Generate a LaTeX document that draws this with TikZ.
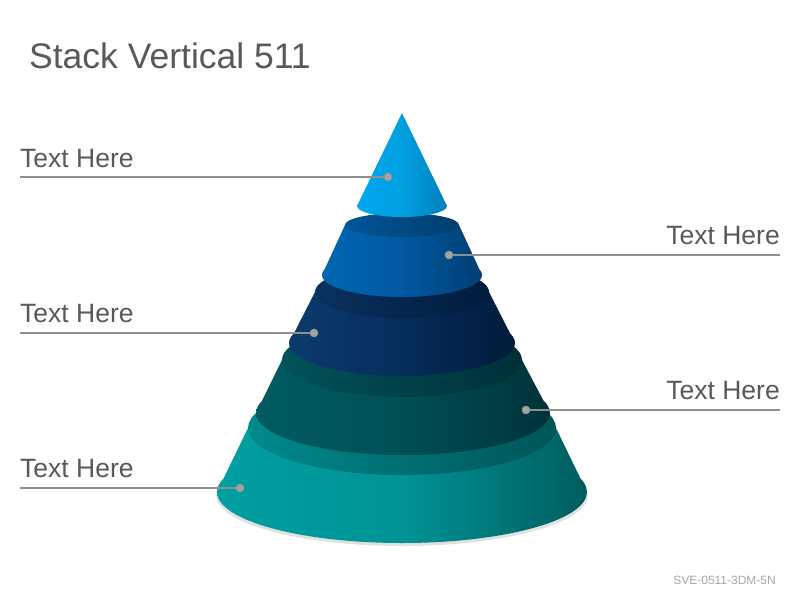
\documentclass[tikz,border=0pt]{standalone}
\usepackage{fontspec}
\setmainfont{Liberation Sans}
\definecolor{txt}{HTML}{595959}
\definecolor{foot}{HTML}{A6A6A6}
\definecolor{lead}{HTML}{8F8F8F}
\definecolor{dotc}{HTML}{A3A3A3}
\definecolor{ca}{HTML}{00A9EC}\definecolor{cm}{HTML}{009FE0}\definecolor{cb}{HTML}{0080BE}
\definecolor{ba}{HTML}{0067B2}\definecolor{bm}{HTML}{0058A0}\definecolor{bb}{HTML}{003F73}
\definecolor{bta}{HTML}{00569A}\definecolor{btb}{HTML}{003E6E}
\definecolor{na}{HTML}{0D3A6E}\definecolor{nm}{HTML}{062D5C}\definecolor{nb}{HTML}{001B3A}
\definecolor{nta}{HTML}{0A3160}\definecolor{ntb}{HTML}{001C3C}
\definecolor{da}{HTML}{005C62}\definecolor{dm}{HTML}{004F56}\definecolor{db}{HTML}{00323A}
\definecolor{dta}{HTML}{00535A}\definecolor{dtb}{HTML}{003038}
\definecolor{ta}{HTML}{009FA1}\definecolor{tm}{HTML}{009396}\definecolor{tb}{HTML}{005C5E}
\definecolor{tta}{HTML}{008A8C}\definecolor{ttb}{HTML}{005558}
\begin{document}
\begin{tikzpicture}[x=1pt,y=-1pt,
  lbl/.style={text=txt,font=\fontsize{26.5}{30}\selectfont,inner sep=0pt},
  leader/.style={draw=lead,line width=2.9pt},
  dotnode/.style={circle,fill=dotc,draw=lead,line width=0.6pt,minimum size=8pt,inner sep=0pt}]
\useasboundingbox[fill=white] (0,0) rectangle (800,600);
% title and footer
\node[text=txt,font=\fontsize{35.5}{40}\selectfont,anchor=base west,inner sep=0pt] (title) at (29,68) {Stack Vertical 511};
\node[text=foot,font=\fontsize{12}{14}\selectfont,anchor=base east,inner sep=0pt] (code) at (776,584) {SVE-0511-3DM-5N};
% shadow under base
\fill[black,opacity=0.12] (402,495) ellipse [x radius=186pt,y radius=51pt];
% layer 5
\shade[left color=ta,right color=tb,middle color=tm] (248,428) -- (217,492) -- (587,492) -- (556,428) -- cycle (402,492) ellipse [x radius=185pt,y radius=51pt];
\shade[left color=tta,right color=ttb] (402,428) ellipse [x radius=154pt,y radius=47pt];
% layer 4
\shade[left color=da,right color=db,middle color=dm] (282,360) -- (256,413) -- (550,413) -- (522,360) -- cycle (403,413) ellipse [x radius=147pt,y radius=42pt];
\shade[left color=dta,right color=dtb] (402,360) ellipse [x radius=120pt,y radius=37pt];
% layer 3
\shade[left color=na,right color=nb,middle color=nm] (315,292) -- (289,343) -- (515,343) -- (489,292) -- cycle (402,343) ellipse [x radius=113pt,y radius=33pt];
\shade[left color=nta,right color=ntb] (402,292) ellipse [x radius=87pt,y radius=26pt];
% layer 2
\shade[left color=ba,right color=bb,middle color=bm] (345,225) -- (322,275) -- (482,275) -- (459,225) -- cycle (402,275) ellipse [x radius=80pt,y radius=22pt];
\shade[left color=bta,right color=btb] (402,225) ellipse [x radius=57pt,y radius=12pt];
% layer 1 (cone)
\shade[left color=ca,right color=cb,middle color=cm] (402,113) -- (357,206) -- (447,206) -- cycle (402,206) ellipse [x radius=45pt,y radius=11pt];
% labels
\node[lbl,anchor=base west] (t1) at (20,167) {Text Here};
\node[lbl,anchor=base east] (t2) at (780,244) {Text Here};
\node[lbl,anchor=base west] (t3) at (20,322) {Text Here};
\node[lbl,anchor=base east] (t4) at (780,399) {Text Here};
\node[lbl,anchor=base west] (t5) at (20,477) {Text Here};
\coordinate (s1) at (20,177);
\coordinate (s2) at (780,255);
\coordinate (s3) at (20,333);
\coordinate (s4) at (780,410);
\coordinate (s5) at (20,488);
\coordinate (p1) at (388,177);
\coordinate (p2) at (449,255);
\coordinate (p3) at (314,333);
\coordinate (p4) at (526,410);
\coordinate (p5) at (240,488);
\draw[leader] (s1) -- (p1);
\draw[leader] (s2) -- (p2);
\draw[leader] (s3) -- (p3);
\draw[leader] (s4) -- (p4);
\draw[leader] (s5) -- (p5);
\node[dotnode] (d1) at (p1) {};
\node[dotnode] (d2) at (p2) {};
\node[dotnode] (d3) at (p3) {};
\node[dotnode] (d4) at (p4) {};
\node[dotnode] (d5) at (p5) {};
\end{tikzpicture}
\end{document}
